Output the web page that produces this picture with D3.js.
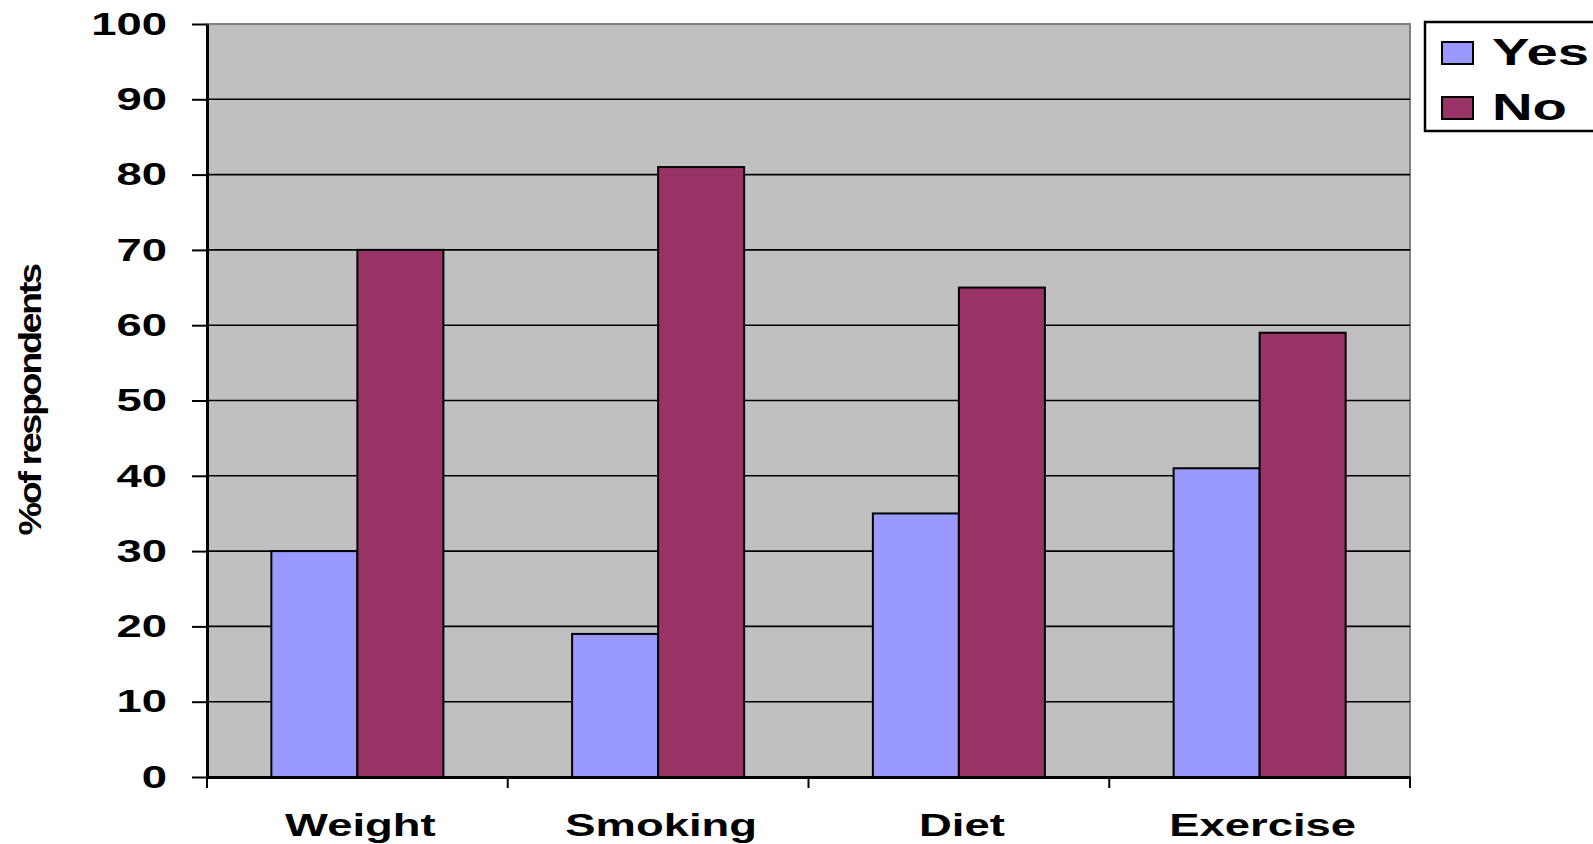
<!DOCTYPE html>
<html>
<head>
<meta charset="utf-8">
<script src="https://cdn.jsdelivr.net/npm/d3@7"></script>
<style>
  body { margin: 0; background: #fff; }
  text { font-family: "Liberation Sans", Arial, sans-serif; }
</style>
</head>
<body>
<div id="myChart"></div>
<script>
// data
var categories = ["Weight", "Smoking", "Diet", "Exercise"];
var seriesNames = ["Yes", "No"];
var yesValues = [30, 19, 35, 41];
var noValues = [70, 81, 65, 59];
var yTicks = [0, 10, 20, 30, 40, 50, 60, 70, 80, 90, 100];

var colors = {Yes: "#9999ff", No: "#993366"};
var stretch = 1.42; // text in the original is widened

// plot area
var margin = {top: 24, right: 183, bottom: 67, left: 207},
    width = 1593 - margin.left - margin.right,
    height = 844 - margin.top - margin.bottom;

var svgRoot = d3.select("#myChart")
  .append("svg")
    .attr("width", 1593)
    .attr("height", 844);

var svg = svgRoot.append("g")
    .attr("transform", "translate(" + margin.left + "," + margin.top + ")");

var rows = categories.map(function(c, i) {
  return {cat: c, Yes: yesValues[i], No: noValues[i]};
});

// scales
var x0 = d3.scaleBand()
    .domain(categories)
    .range([0, width])
    .paddingInner(0)
    .paddingOuter(0);

var x1 = d3.scaleBand()
    .domain(seriesNames)
    .range([x0.bandwidth() * 0.214, x0.bandwidth() * 0.786]);

var y = d3.scaleLinear()
    .domain([0, 100])
    .range([height, 0]);

// background
svg.append("rect")
    .attr("x", 0)
    .attr("y", 0)
    .attr("width", width)
    .attr("height", height)
    .attr("fill", "#c0c0c0")
    .attr("stroke", "#808080")
    .attr("stroke-width", 2);

// gridlines
svg.selectAll("line.grid")
  .data(yTicks.filter(function(d) { return d > 0 && d < 100; }))
  .enter()
  .append("line")
    .attr("class", "grid")
    .attr("x1", 0)
    .attr("x2", width)
    .attr("y1", function(d) { return y(d); })
    .attr("y2", function(d) { return y(d); })
    .attr("stroke", "#000")
    .attr("stroke-width", 1.6);

// bars
var groups = svg.selectAll("g.cat")
  .data(rows)
  .enter()
  .append("g")
    .attr("class", "cat")
    .attr("transform", function(d) { return "translate(" + x0(d.cat) + ",0)"; });

groups.selectAll("rect")
  .data(function(d) { return seriesNames.map(function(s) { return {key: s, value: d[s]}; }); })
  .enter()
  .append("rect")
    .attr("x", function(d) { return x1(d.key); })
    .attr("y", function(d) { return y(d.value); })
    .attr("width", x1.bandwidth())
    .attr("height", function(d) { return height - y(d.value); })
    .attr("fill", function(d) { return colors[d.key]; })
    .attr("stroke", "#000")
    .attr("stroke-width", 2);

// Y axis
var yAxis = svg.append("g")
    .attr("class", "yaxis")
    .call(d3.axisLeft(y)
      .tickValues(yTicks)
      .tickSize(15)
      .tickSizeOuter(0)
      .tickPadding(25));

yAxis.select(".domain").attr("stroke-width", 3);
yAxis.selectAll(".tick line").attr("stroke-width", 2);
yAxis.selectAll(".tick text")
    .attr("x", -40 / stretch)
    .attr("transform", "scale(" + stretch + ",1)")
    .attr("font-size", "32px")
    .attr("font-weight", "bold")
    .attr("fill", "#000");

// X axis
var xAxis = svg.append("g")
    .attr("class", "xaxis")
    .attr("transform", "translate(0," + height + ")")
    .call(d3.axisBottom(x0).tickSize(0).tickSizeOuter(0).tickPadding(36));

xAxis.select(".domain").attr("stroke-width", 3);
xAxis.selectAll(".tick text")
    .attr("transform", "scale(" + stretch + ",1)")
    .attr("x", 0)
    .attr("font-size", "32px")
    .attr("font-weight", "bold")
    .attr("fill", "#000");
xAxis.selectAll(".tick").attr("transform", function(d) {
  return "translate(" + (x0(d) + x0.bandwidth() / 2 + 3) + ",0)";
});

// category boundary ticks
var bounds = categories.map(function(c) { return x0(c); }).concat([width]);
xAxis.selectAll("line.bound")
  .data(bounds)
  .enter()
  .append("line")
    .attr("class", "bound")
    .attr("x1", function(d) { return d; })
    .attr("x2", function(d) { return d; })
    .attr("y1", 0)
    .attr("y2", 11)
    .attr("stroke", "#000")
    .attr("stroke-width", 2);

// y title
svgRoot.append("text")
    .attr("transform", "translate(41," + (margin.top + height / 2) + ") rotate(-90)")
    .attr("text-anchor", "middle")
    .attr("font-size", "31px")
    .attr("font-weight", "bold")
    .attr("textLength", 270)
    .attr("lengthAdjust", "spacingAndGlyphs")
    .attr("letter-spacing", "-2px")
    .text("%of respondents");

// legend
var legend = svgRoot.append("g")
    .attr("transform", "translate(1425,22)");

legend.append("rect")
    .attr("x", 0)
    .attr("y", 0)
    .attr("width", 200)
    .attr("height", 109)
    .attr("fill", "#fff")
    .attr("stroke", "#000")
    .attr("stroke-width", 2.5);

var items = legend.selectAll("g.item")
  .data(seriesNames)
  .enter()
  .append("g")
    .attr("class", "item")
    .attr("transform", function(d, i) { return "translate(0," + (i * 55) + ")"; });

items.append("rect")
    .attr("x", 17)
    .attr("y", 20)
    .attr("width", 31)
    .attr("height", 22)
    .attr("fill", function(d) { return colors[d]; })
    .attr("stroke", "#000")
    .attr("stroke-width", 2);

items.append("text")
    .attr("transform", "translate(67,43) scale(1.52,1)")
    .attr("font-size", "37px")
    .attr("font-weight", "bold")
    .attr("fill", "#000")
    .text(function(d) { return d; });
</script>
</body>
</html>
